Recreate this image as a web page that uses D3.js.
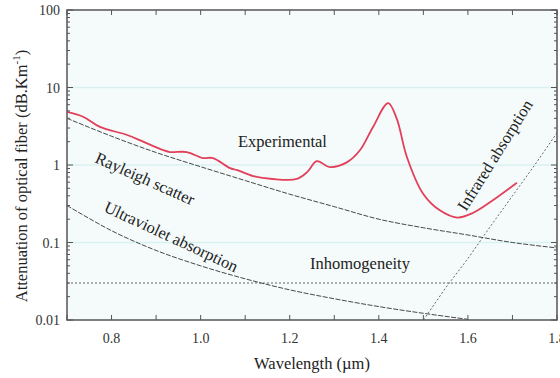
<!DOCTYPE html>
<html>
<head>
<meta charset="utf-8">
<script src="https://cdn.jsdelivr.net/npm/d3@7"></script>
<style>
  html, body { margin: 0; padding: 0; background: #ffffff; }
  svg { display: block; font-family: "Liberation Serif", "DejaVu Serif", serif; }
</style>
</head>
<body>
<div id="chart"></div>
<script>
// Data (wavelength in um, attenuation in dB/km)

var expLambda = [0.700, 0.736, 0.774, 0.835, 0.871, 0.916, 0.931, 0.969, 1.005, 1.028,
                 1.066, 1.082, 1.118, 1.162, 1.216, 1.239, 1.261, 1.290, 1.329, 1.358,
                 1.387, 1.421, 1.440, 1.463, 1.499, 1.537, 1.576, 1.611, 1.656, 1.710];
var expValue  = [4.85, 4.2, 3.1, 2.44, 2.0, 1.56, 1.47, 1.47, 1.23, 1.23,
                 0.91, 0.86, 0.72, 0.66, 0.66, 0.81, 1.12, 0.94, 1.09, 1.56,
                 3.1, 6.3, 4.0, 1.27, 0.43, 0.26, 0.21, 0.24, 0.35, 0.59];

var rayLambda = [0.7, 0.8, 0.9, 1.0, 1.1, 1.2, 1.3, 1.4, 1.5, 1.6, 1.7, 1.8];
var rayValue  = [4.0, 2.35, 1.45, 0.95, 0.63, 0.42, 0.29, 0.20, 0.155, 0.125, 0.10, 0.085];

var uvLambda = [0.7, 0.8, 0.9, 1.0, 1.1, 1.2, 1.3, 1.4, 1.5, 1.6];
var uvValue  = [0.30, 0.142, 0.079, 0.050, 0.034, 0.0245, 0.0188, 0.0149, 0.0122, 0.0102];

var irLambda = [1.50, 1.55, 1.60, 1.65, 1.70, 1.75, 1.80];
var irValue  = [0.01, 0.026, 0.062, 0.16, 0.40, 1.0, 2.6];

var inhomLambda = [0.7, 1.8];
var inhomValue  = [0.03, 0.03];

var xTickValues = [0.8, 1.0, 1.2, 1.4, 1.6, 1.8];
var yTickValues = [0.01, 0.1, 1, 10, 100];
var yTickLabels = ["0.01", "0.1", "1", "10", "100"];

//////////////////////////////////////////////////////////////////////////////

var width = 560, height = 378;
var plotL = 67, plotR = 557, plotT = 10, plotB = 320;

var xScale = d3.scaleLinear().domain([0.7, 1.8]).range([plotL, plotR]);
var yScale = d3.scaleLog().domain([0.01, 100]).range([plotB, plotT]);

function zipPts(xs, ys) {
    return xs.map(function(x, i) { return [x, ys[i]]; });
}

var svg = d3.select("#chart")
    .append("svg")
    .attr("width", width)
    .attr("height", height);

svg.append("defs").append("clipPath")
    .attr("id", "plotClip")
    .append("rect")
    .attr("x", plotL).attr("y", plotT)
    .attr("width", plotR - plotL).attr("height", plotB - plotT);

// plot background and faint grid
svg.append("rect")
    .attr("x", plotL).attr("y", plotT)
    .attr("width", plotR - plotL).attr("height", plotB - plotT)
    .attr("fill", "#f5fbfb");

svg.append("g")
    .selectAll("line")
    .data([0.1, 1, 10])
    .enter()
    .append("line")
    .attr("x1", plotL).attr("x2", plotR)
    .attr("y1", function(d) { return yScale(d); })
    .attr("y2", function(d) { return yScale(d); })
    .attr("stroke", "#daf1f1")
    .attr("stroke-width", 1.5);

// curves
var line = d3.line()
    .x(function(d) { return xScale(d[0]); })
    .y(function(d) { return yScale(d[1]); });

var curves = svg.append("g").attr("clip-path", "url(#plotClip)");

curves.append("path")
    .attr("d", line.curve(d3.curveLinear)(zipPts(inhomLambda, inhomValue)))
    .attr("fill", "none")
    .attr("stroke", "#666")
    .attr("stroke-width", 1)
    .attr("stroke-dasharray", "2,2");

curves.append("path")
    .attr("d", line.curve(d3.curveLinear)(zipPts(irLambda, irValue)))
    .attr("fill", "none")
    .attr("stroke", "#666")
    .attr("stroke-width", 1)
    .attr("stroke-dasharray", "2,2");

curves.append("path")
    .attr("d", line.curve(d3.curveCatmullRom)(zipPts(rayLambda, rayValue)))
    .attr("fill", "none")
    .attr("stroke", "#333")
    .attr("stroke-width", 0.9)
    .attr("stroke-dasharray", "5,1.5");

curves.append("path")
    .attr("d", line.curve(d3.curveCatmullRom)(zipPts(uvLambda, uvValue)))
    .attr("fill", "none")
    .attr("stroke", "#333")
    .attr("stroke-width", 0.9)
    .attr("stroke-dasharray", "5,1.5");

curves.append("path")
    .attr("d", line.curve(d3.curveCatmullRom)(zipPts(expLambda, expValue)))
    .attr("fill", "none")
    .attr("stroke", "#e2405a")
    .attr("stroke-width", 1.8);

// frame
svg.append("rect")
    .attr("x", plotL).attr("y", plotT)
    .attr("width", plotR - plotL).attr("height", plotB - plotT)
    .attr("fill", "none")
    .attr("stroke", "#555")
    .attr("stroke-width", 1.5);

// x ticks every 0.1, inward on top and bottom
var xMinor = d3.range(7, 19).map(function(v) { return v / 10; });
var ticks = svg.append("g").attr("stroke", "#555").attr("stroke-width", 1);
xMinor.forEach(function(v) {
    ticks.append("line")
        .attr("x1", xScale(v)).attr("x2", xScale(v))
        .attr("y1", plotB).attr("y2", plotB - 5);
    ticks.append("line")
        .attr("x1", xScale(v)).attr("x2", xScale(v))
        .attr("y1", plotT).attr("y2", plotT + 5);
});

// y ticks, log minor
var yMinor = [];
[0.01, 0.1, 1, 10].forEach(function(dec) {
    for (var k = 2; k <= 9; k++) yMinor.push(dec * k);
});
yTickValues.forEach(function(v) {
    ticks.append("line")
        .attr("x1", plotL).attr("x2", plotL + 6)
        .attr("y1", yScale(v)).attr("y2", yScale(v));
    ticks.append("line")
        .attr("x1", plotR).attr("x2", plotR - 6)
        .attr("y1", yScale(v)).attr("y2", yScale(v));
});
yMinor.forEach(function(v) {
    ticks.append("line")
        .attr("x1", plotL).attr("x2", plotL + 3)
        .attr("y1", yScale(v)).attr("y2", yScale(v));
    ticks.append("line")
        .attr("x1", plotR).attr("x2", plotR - 3)
        .attr("y1", yScale(v)).attr("y2", yScale(v));
});

// tick labels
svg.append("g")
    .selectAll("text")
    .data(xTickValues)
    .enter()
    .append("text")
    .attr("x", function(d) { return xScale(d); })
    .attr("y", 343)
    .attr("text-anchor", "middle")
    .attr("font-size", 14)
    .attr("fill", "#333")
    .text(function(d) { return d.toFixed(1); });

svg.append("g")
    .selectAll("text")
    .data(yTickValues)
    .enter()
    .append("text")
    .attr("x", 60)
    .attr("y", function(d) { return yScale(d) + 5; })
    .attr("text-anchor", "end")
    .attr("font-size", 14)
    .attr("fill", "#333")
    .text(function(d, i) { return yTickLabels[i]; });

// axis titles
svg.append("text")
    .attr("x", 312).attr("y", 369)
    .attr("text-anchor", "middle")
    .attr("font-size", 16.5)
    .attr("fill", "#222")
    .text("Wavelength (\u00b5m)");

var yTitle = svg.append("text")
    .attr("transform", "translate(27,176) rotate(-90)")
    .attr("text-anchor", "middle")
    .attr("font-size", 16.5)
    .attr("fill", "#222");
yTitle.append("tspan").text("Attenuation of optical fiber (dB.Km");
yTitle.append("tspan").attr("font-size", 11).attr("dy", -7).text("-1");
yTitle.append("tspan").attr("dy", 7).text(")");

// curve labels
function label(txt, x, y, angle) {
    svg.append("text")
        .attr("transform", "translate(" + x + "," + y + ") rotate(" + angle + ")")
        .attr("font-size", 16.5)
        .attr("fill", "#222")
        .text(txt);
}

label("Experimental", 238, 147, 0);
label("Rayleigh scatter", 94, 162, 24);
label("Ultraviolet absorption", 103, 211, 25);
label("Inhomogeneity", 310, 269, 0);
label("Infrared absorption", 466, 212, -58);
</script>
</body>
</html>
